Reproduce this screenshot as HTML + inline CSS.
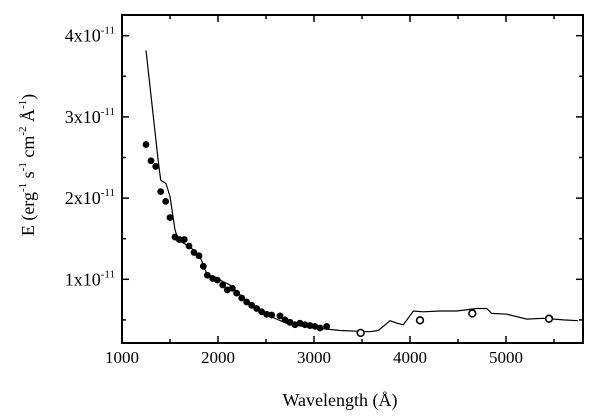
<!DOCTYPE html>
<html><head><meta charset="utf-8"><style>
body{margin:0;background:#fff}
svg{display:block;font-family:"Liberation Serif",serif}
</style></head><body>
<svg id="chart" width="600" height="420" viewBox="0 0 600 420" xmlns="http://www.w3.org/2000/svg">
<g id="plot"></g>
</svg>
<script>
const modelWave=[1250,1378,1403,1458,1500,1552,1587,1708,1813,1882,1986,2125,2264,2472,2750,3028,3271,3479,3583,3670,3792,3861,3930,4035,4135,4312,4486,4694,4799,4851,5007,5215,5389,5597,5750];
const modelFlux=[3.82,2.45,2.22,2.18,2.02,1.61,1.48,1.40,1.28,1.07,1.01,0.93,0.77,0.58,0.44,0.40,0.37,0.36,0.355,0.37,0.49,0.46,0.44,0.61,0.60,0.61,0.61,0.64,0.64,0.58,0.57,0.51,0.52,0.50,0.49];
const filledWave=[1250,1302,1351,1403,1455,1500,1552,1597,1649,1698,1750,1802,1847,1889,1945,1993,2049,2097,2149,2194,2247,2299,2351,2403,2455,2507,2559,2646,2698,2750,2802,2854,2906,2958,3010,3063,3132];
const filledFlux=[2.66,2.46,2.39,2.08,1.96,1.76,1.52,1.49,1.49,1.41,1.33,1.29,1.16,1.05,1.01,0.99,0.93,0.87,0.89,0.83,0.77,0.72,0.68,0.64,0.60,0.57,0.56,0.55,0.50,0.47,0.44,0.46,0.44,0.43,0.42,0.40,0.42];
const openWave=[3486,4104,4649,5448];
const openFlux=[0.34,0.495,0.58,0.515];
const xTicks=[1000,2000,3000,4000,5000];
const yTicks=[1,2,3,4];

const L=122,R=583,T=15,B=343;
const xS=w=>L+(w-1000)*0.096;
const yS=v=>360.5-v*81.2;
const NS="http://www.w3.org/2000/svg";
const g=document.getElementById('plot');
function mk(t,a){const e=document.createElementNS(NS,t);for(const k in a)e.setAttribute(k,a[k]);g.appendChild(e);return e;}

let d=modelWave.map((w,i)=>(i?'L':'M')+xS(w).toFixed(1)+' '+yS(modelFlux[i]).toFixed(1)).join(' ');
let ln=mk('path',{d:d,fill:'none',stroke:'#000','stroke-width':1.2});


filledWave.forEach((w,i)=>{
  const c=mk('circle',{cx:xS(w),cy:yS(filledFlux[i]),r:3.4,fill:'#000'});
  
  
});
openWave.forEach((w,i)=>{
  const c=mk('circle',{cx:xS(w),cy:yS(openFlux[i]),r:3.4,fill:'#fff',stroke:'#000','stroke-width':1.6});
  
  
});
const fr=mk('rect',{x:L,y:T,width:R-L,height:B-T,fill:'none',stroke:'#000','stroke-width':2});


for(let w=1500;w<=5500;w+=500){
  const x=xS(w),len=(w%1000===0)?7:4;
  mk('line',{x1:x,y1:B,x2:x,y2:B-len,stroke:'#000','stroke-width':1.5});
  mk('line',{x1:x,y1:T,x2:x,y2:T+len,stroke:'#000','stroke-width':1.5});
}
xTicks.forEach(w=>{
  const t=mk('text',{x:xS(w),y:363,'text-anchor':'middle','font-size':17});
  t.textContent=w;
  
  
});
for(let v=0.5;v<=4;v+=0.5){
  const y=yS(v),len=(v%1===0)?7:4;
  mk('line',{x1:L,y1:y,x2:L+len,y2:y,stroke:'#000','stroke-width':1.5});
  mk('line',{x1:R,y1:y,x2:R-len,y2:y,stroke:'#000','stroke-width':1.5});
}
yTicks.forEach(v=>{
  const t=mk('text',{x:115,y:yS(v)+6,'text-anchor':'end','font-size':18});
  t.innerHTML=v+'x10<tspan dy="-8" font-size="11">-11</tspan>';
  
  
});
const xt=mk('text',{x:340,y:406,'text-anchor':'middle','font-size':18});
xt.textContent='Wavelength (Å)';


const yt=mk('text',{transform:'translate(34,165) rotate(-90)','text-anchor':'middle','font-size':18});
yt.innerHTML='E (erg<tspan dy="-8" font-size="11">-1</tspan><tspan dy="8"> s</tspan><tspan dy="-8" font-size="11">-1</tspan><tspan dy="8"> cm</tspan><tspan dy="-8" font-size="11">-2</tspan><tspan dy="8"> Å</tspan><tspan dy="-8" font-size="11">-1</tspan><tspan dy="8">)</tspan>';


</script>
</body></html>
